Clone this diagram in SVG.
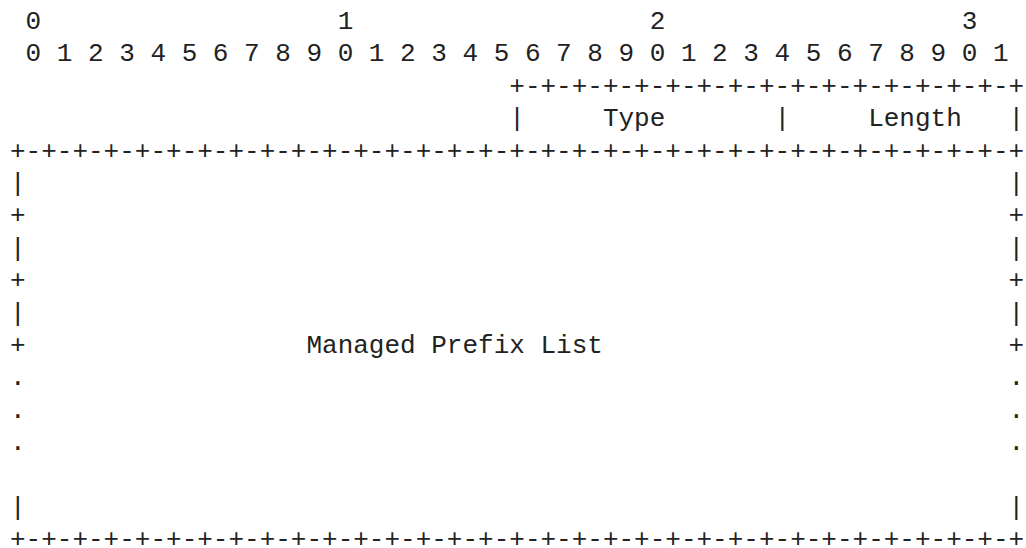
<svg xmlns="http://www.w3.org/2000/svg" width="1026" height="548" viewBox="0 0 1026 548">
<style>
text{font-family:"Liberation Mono","DejaVu Sans Mono",monospace;font-size:26px;fill:#222;white-space:pre}
</style>
<rect width="1026" height="548" fill="#fff"/>
<g id="bit-ruler">
<text x="10" y="29" xml:space="preserve"> 0                   1                   2                   3</text>
<text x="10" y="61.4" xml:space="preserve"> 0 1 2 3 4 5 6 7 8 9 0 1 2 3 4 5 6 7 8 9 0 1 2 3 4 5 6 7 8 9 0 1</text>
</g>
<g id="type-length">
<text x="10" y="93.8" xml:space="preserve">                                +-+-+-+-+-+-+-+-+-+-+-+-+-+-+-+-+</text>
<text x="10" y="126.2" xml:space="preserve">                                |     Type       |     Length   |</text>
</g>
<g id="managed-prefix-list">
<text x="10" y="158.6" xml:space="preserve">+-+-+-+-+-+-+-+-+-+-+-+-+-+-+-+-+-+-+-+-+-+-+-+-+-+-+-+-+-+-+-+-+</text>
<text x="10" y="191" xml:space="preserve">|                                                               |</text>
<text x="10" y="223.4" xml:space="preserve">+                                                               +</text>
<text x="10" y="255.8" xml:space="preserve">|                                                               |</text>
<text x="10" y="288.2" xml:space="preserve">+                                                               +</text>
<text x="10" y="320.6" xml:space="preserve">|                                                               |</text>
<text x="10" y="353" xml:space="preserve">+                  Managed Prefix List                          +</text>
<text x="10" y="385.4" xml:space="preserve">.                                                               .</text>
<text x="10" y="417.8" xml:space="preserve">.                                                               .</text>
<text x="10" y="450.2" xml:space="preserve">.                                                               .</text>
<text x="10" y="515" xml:space="preserve">|                                                               |</text>
<text x="10" y="547.4" xml:space="preserve">+-+-+-+-+-+-+-+-+-+-+-+-+-+-+-+-+-+-+-+-+-+-+-+-+-+-+-+-+-+-+-+-+</text>
</g>
<g id="connectors"/>
</svg>
